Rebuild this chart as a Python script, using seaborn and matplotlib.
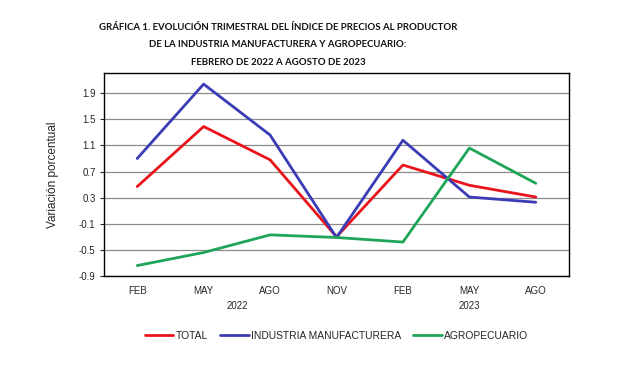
import pandas as pd
import numpy as np
import matplotlib.pyplot as plt
import seaborn as sns

meses = ["FEB", "MAY", "AGO", "NOV", "FEB", "MAY", "AGO"]
anios = ["2022", "2023"]
total = [0.47, 1.39, 0.88, -0.30, 0.80, 0.49, 0.31]
industria = [0.90, 2.04, 1.26, -0.31, 1.18, 0.31, 0.23]
agro = [-0.74, -0.54, -0.27, -0.31, -0.38, 1.06, 0.52]
series = ["TOTAL", "INDUSTRIA MANUFACTURERA", "AGROPECUARIO"]
colores = ["#E8141C", "#3B3BB5", "#1EA558"]
yticks = [-0.9, -0.5, -0.1, 0.3, 0.7, 1.1, 1.5, 1.9]

pos = list(range(len(meses)))
df = pd.DataFrame({
    "pos": pos * 3,
    "valor": total + industria + agro,
    "serie": [s for s in series for _ in meses],
})

sns.set_style("white")
plt.rcParams["font.family"] = ["Liberation Sans", "DejaVu Sans"]

fig = plt.figure(figsize=(6.35, 3.67), dpi=100)
ax = fig.add_axes([104 / 635, 1 - 276 / 367, 465 / 635, 203 / 367])

sns.lineplot(data=df, x="pos", y="valor", hue="serie", palette=colores,
             hue_order=series, linewidth=2.0, sort=False, ax=ax)

ax.set_xlim(-0.5, len(meses) - 0.5)
ax.set_ylim(-0.9, 2.21)
ax.set_yticks(yticks)
ax.set_yticklabels([f"{v:.1f}" for v in yticks], fontsize=7)
ax.set_xticks(pos)
ax.set_xticklabels(meses, fontsize=7)
ax.tick_params(axis="x", length=0, pad=7)
ax.tick_params(axis="y", length=3, left=True, pad=3)
ax.yaxis.grid(True, color="#8c8c8c", linewidth=0.9)
ax.set_axisbelow(True)
for s in ax.spines.values():
    s.set_color("black")
    s.set_linewidth(1.0)
ax.set_xlabel("")
ax.set_ylabel("Variación porcentual", fontsize=8.5, labelpad=14)

# year labels under the month groups
ax.text(1.5, -0.125, anios[0], transform=ax.get_xaxis_transform(), ha="center",
        va="top", fontsize=7)
ax.text(5.0, -0.125, anios[1], transform=ax.get_xaxis_transform(), ha="center",
        va="top", fontsize=7)

ax.legend(loc="center", bbox_to_anchor=(0.5, -0.295), ncol=3, frameon=False,
          fontsize=7.4, handlelength=2.8, handletextpad=0.2, columnspacing=1.2)

fig.text(278 / 635, 1 - 23 / 367, "GRÁFICA 1. EVOLUCIÓN TRIMESTRAL DEL ÍNDICE DE PRECIOS AL PRODUCTOR\n"
         "DE LA INDUSTRIA MANUFACTURERA Y AGROPECUARIO:\nFEBRERO DE 2022 A AGOSTO DE 2023",
         ha="center", va="top", fontsize=6.9, fontweight="bold", linespacing=2.2,
         color="#111111", family=["Lato", "DejaVu Sans"])
fig.savefig("out.png", dpi=100)
